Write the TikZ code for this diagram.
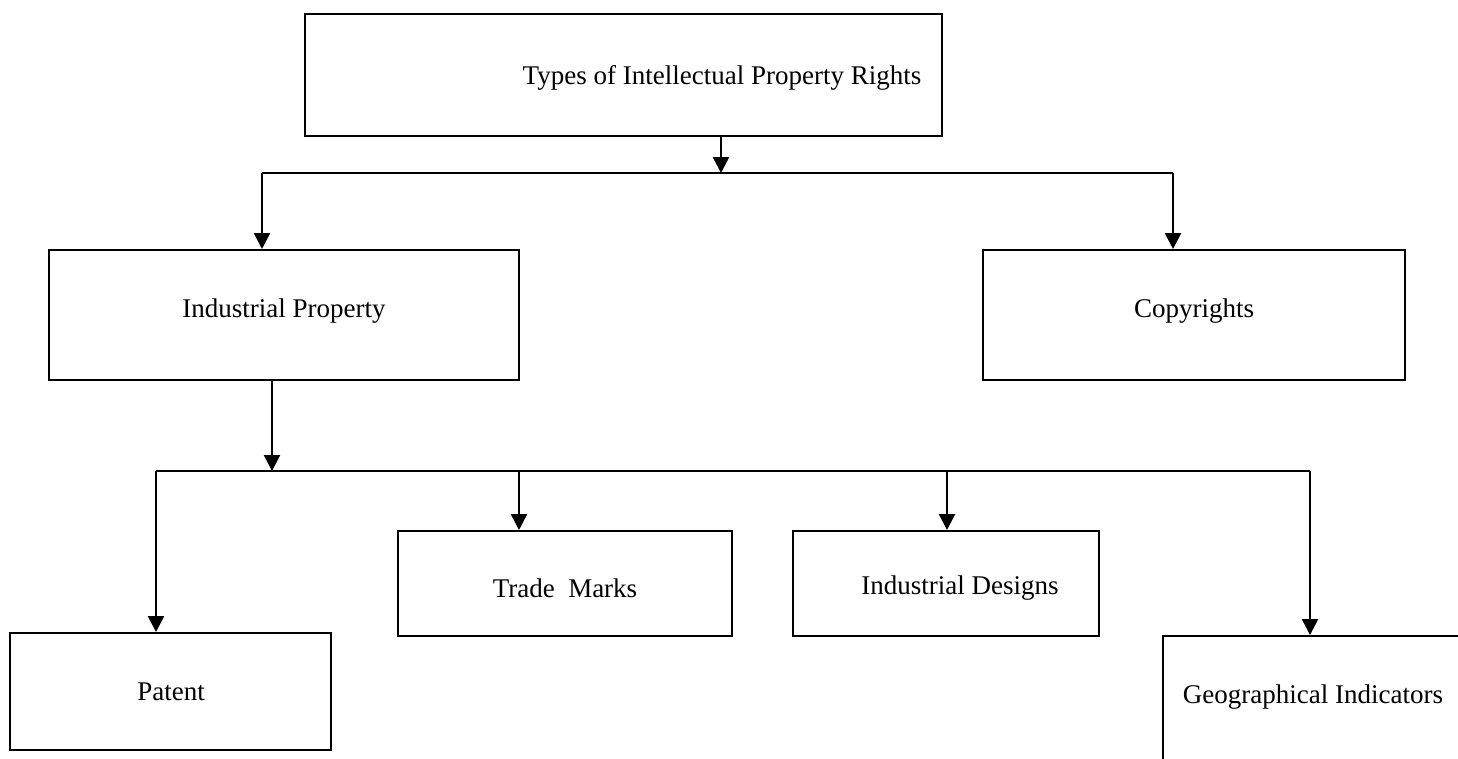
\documentclass[tikz,border=0pt]{standalone}
\usepackage{fontspec}
\setmainfont{Liberation Serif}
\usetikzlibrary{arrows.meta}
\begin{document}
\begin{tikzpicture}[x=1pt,y=-1pt,
  box/.style={draw, line width=2pt, inner sep=0pt},
  lbl/.style={font=\fontsize{27}{32}\selectfont, inner sep=0pt},
  arr/.style={line width=2.6pt, -{Triangle[width=16pt,length=16pt]}},
  bar/.style={line width=2pt}]
\clip (0,0) rectangle (1458,758);
\fill[white] (0,0) rectangle (1458,758);
% boxes
\node[box, minimum width=637pt, minimum height=122pt] (top) at (623.5,75) {};
\node[box, minimum width=470pt, minimum height=130pt] (ip) at (284,315) {};
\node[box, minimum width=422pt, minimum height=130pt] (cp) at (1194,315) {};
\node[box, minimum width=321pt, minimum height=117pt] (pt) at (170.5,691.5) {};
\node[box, minimum width=334pt, minimum height=105pt] (tm) at (565,583.5) {};
\node[box, minimum width=306pt, minimum height=105pt] (id) at (946,583.5) {};
\node[box, minimum width=340pt, minimum height=160pt] (gi) at (1333,716) {};
% labels
\node[lbl] (toptext) at (722,78) {Types of Intellectual Property Rights};
\node[lbl] (iptext) at (284,311) {Industrial Property};
\node[lbl] (cptext) at (1194,311) {Copyrights};
\node[lbl] (pttext) at (171,692) {Patent};
\node[lbl] (tmtext) at (565,588) {Trade\ \ Marks};
\node[lbl] (idtext) at (960,588) {Industrial Designs};
\node[lbl] (gitext) at (1313,697) {Geographical Indicators};
% junctions
\coordinate (j1) at (721,173);
\coordinate (a1) at (262,173);
\coordinate (a2) at (1173,173);
\coordinate (j2) at (272,471);
\coordinate (b1) at (156,471);
\coordinate (b2) at (519,471);
\coordinate (b3) at (947,471);
\coordinate (b4) at (1310,471);
% connectors
\draw[arr] (j1 |- top.south) -- (j1);
\draw[bar] (a1) -- (a2);
\draw[arr] (a1) -- (a1 |- ip.north);
\draw[arr] (a2) -- (a2 |- cp.north);
\draw[arr] (j2 |- ip.south) -- (j2);
\draw[bar] (b1) -- (b4);
\draw[arr] (b1) -- (b1 |- pt.north);
\draw[arr] (b2) -- (b2 |- tm.north);
\draw[arr] (b3) -- (b3 |- id.north);
\draw[arr] (b4) -- (b4 |- gi.north);
\end{tikzpicture}
\end{document}
